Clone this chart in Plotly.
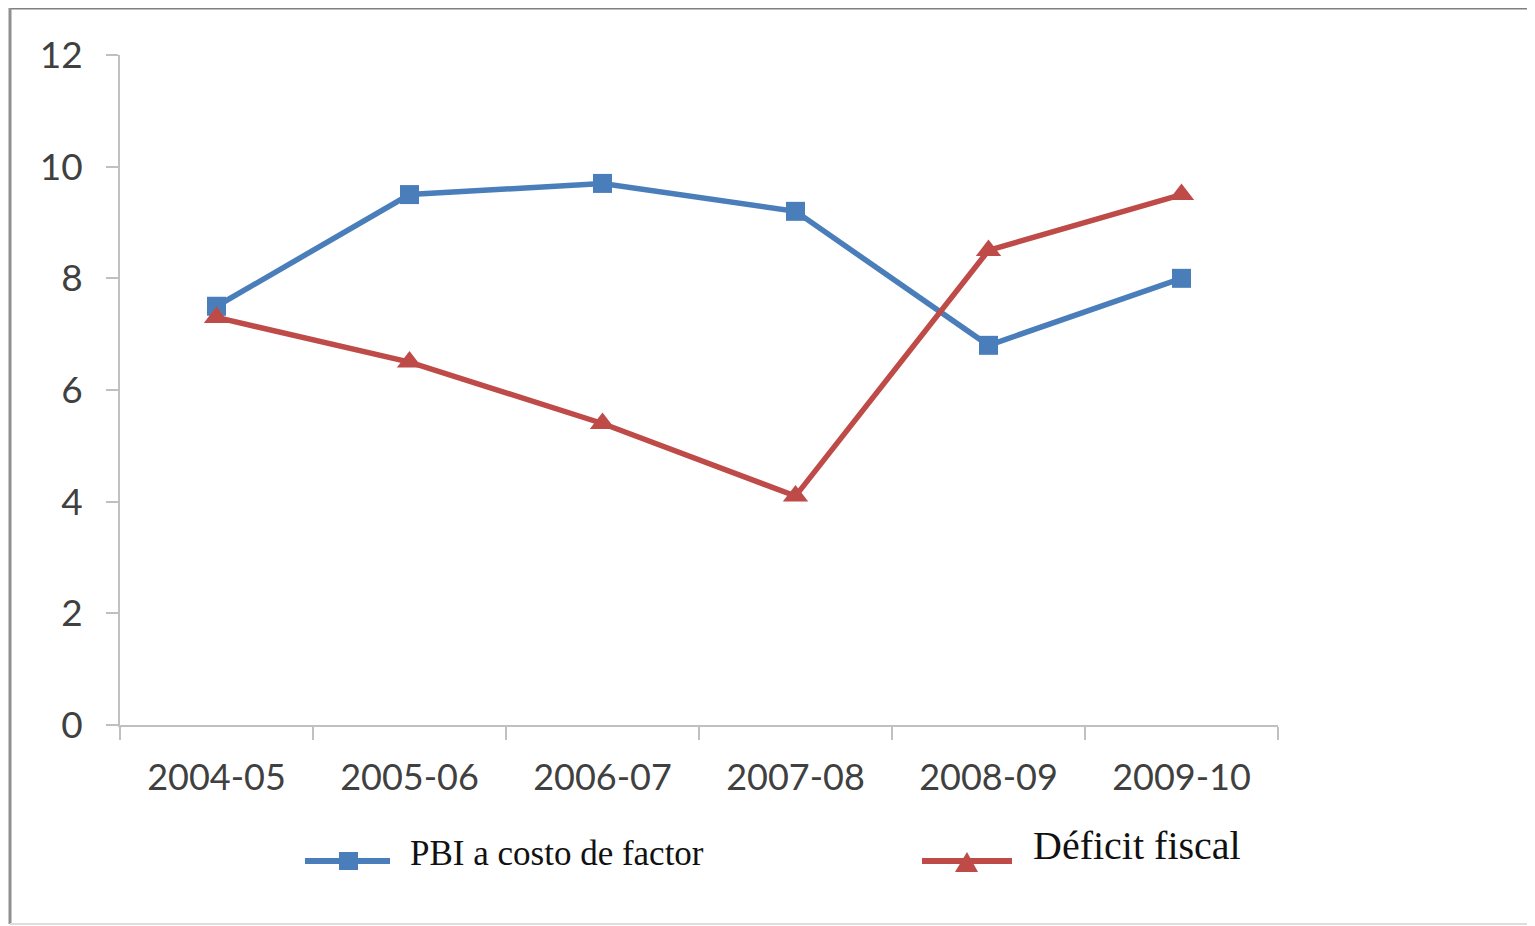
import plotly.graph_objects as go

categories = ["2004-05", "2005-06", "2006-07", "2007-08", "2008-09", "2009-10"]
pbi = [7.5, 9.5, 9.7, 9.2, 6.8, 8.0]
deficit = [7.3, 6.5, 5.4, 4.1, 8.5, 9.5]
y_ticks = [0, 2, 4, 6, 8, 10, 12]
legend_labels = ["PBI a costo de factor", "Déficit fiscal"]

BLUE = "#4A7EBB"
RED = "#BE4B48"
OFF = 8  # page body margin
W, H = 1535 - OFF, 926 - OFF
L, R, T, B = 120, 1278, 55, 725  # plot area in screenshot pixels

def px(x):
    return (x - L) / (R - L)

def py(y):
    return (B - y) / (B - T)

fig = go.Figure()
fig.add_trace(go.Scatter(x=categories, y=pbi, mode="lines+markers", name=legend_labels[0],
                         line=dict(color=BLUE, width=5.5),
                         marker=dict(symbol="square", size=19, color=BLUE)))
fig.add_trace(go.Scatter(x=categories, y=deficit, mode="lines+markers", name=legend_labels[1],
                         line=dict(color=RED, width=5.5),
                         marker=dict(symbol="triangle-up", size=22, color=RED)))

shapes = []
# image border
shapes.append(dict(type="line", xref="paper", yref="paper", x0=px(10), x1=px(1540), y0=py(8), y1=py(8),
                   line=dict(color="#808080", width=3)))
shapes.append(dict(type="line", xref="paper", yref="paper", x0=px(10), x1=px(10), y0=py(8), y1=py(924),
                   line=dict(color="#909090", width=3)))
shapes.append(dict(type="line", xref="paper", yref="paper", x0=px(10), x1=px(1540), y0=py(924), y1=py(924),
                   line=dict(color="#dddddd", width=2)))
# legend samples
shapes.append(dict(type="line", xref="paper", yref="paper", x0=px(305), x1=px(390), y0=py(861), y1=py(861),
                   line=dict(color=BLUE, width=6)))
shapes.append(dict(type="rect", xref="paper", yref="paper", x0=px(339), x1=px(358), y0=py(852), y1=py(870),
                   fillcolor=BLUE, line=dict(width=0)))
shapes.append(dict(type="line", xref="paper", yref="paper", x0=px(922), x1=px(1012), y0=py(861), y1=py(861),
                   line=dict(color=RED, width=6)))
shapes.append(dict(type="path", xref="paper", yref="paper",
                   path=f"M {px(955)},{py(872)} L {px(978)},{py(872)} L {px(967)},{py(852)} Z",
                   fillcolor=RED, line=dict(width=0)))

annotations = [
    dict(text=legend_labels[0], xref="paper", yref="paper", x=px(408), y=py(853), xanchor="left", yanchor="middle",
         showarrow=False, font=dict(family="Liberation Serif", size=35, color="#111111")),
    dict(text=legend_labels[1], xref="paper", yref="paper", x=px(1031), y=py(845), xanchor="left", yanchor="middle",
         showarrow=False, font=dict(family="Liberation Serif", size=40, color="#111111")),
]

fig.update_layout(
    width=W, height=H,
    margin=dict(l=L - OFF, r=W - (R - OFF), t=T - OFF, b=H - (B - OFF)),
    paper_bgcolor="white", plot_bgcolor="white",
    showlegend=False,
    shapes=shapes, annotations=annotations,
    font=dict(family="Lato", color="#404040"),
)
fig.update_xaxes(type="category", range=[-0.5, 5.5], tickson="boundaries", ticks="outside", ticklen=13,
                 tickwidth=2, tickcolor="#c0c0c0", showline=True, linecolor="#c0c0c0", linewidth=2,
                 showgrid=False, zeroline=False, tickfont=dict(size=36, color="#404040"),
                 ticklabelstandoff=20)
fig.update_yaxes(range=[0, 12], tickvals=y_ticks, ticks="outside", ticklen=12, tickwidth=2,
                 tickcolor="#c0c0c0", showline=True, linecolor="#c0c0c0", linewidth=2,
                 showgrid=False, zeroline=False, tickfont=dict(size=37, color="#404040"),
                 ticklabelstandoff=16)

fig.write_html("out.html")
